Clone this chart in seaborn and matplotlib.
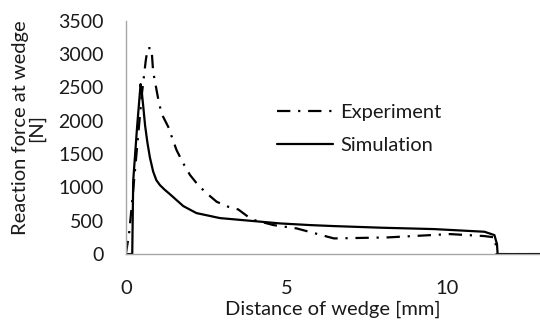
import matplotlib
matplotlib.use("Agg")
import matplotlib.pyplot as plt
import seaborn as sns
import pandas as pd

# values
exp_x = [0.0, 0.1, 0.2, 0.35, 0.5, 0.62, 0.68, 0.8, 0.85, 1.0, 1.11, 1.32, 1.58, 1.79, 2.0,
         2.25, 2.52, 2.83, 3.19, 3.5, 3.92, 4.6, 5.32, 6.48, 8.15, 10.1, 11.17, 11.5, 11.55, 13.0]
exp_y = [0, 300, 800, 1600, 2400, 2900, 3090, 3090, 2740, 2350, 2110, 1910, 1560, 1360, 1186,
         1036, 911, 785, 710, 670, 520, 435, 385, 235, 250, 300, 270, 250, 0, 0]

sim_x = [0.0, 0.2, 0.23, 0.35, 0.46, 0.5, 0.55, 0.6, 0.67, 0.75, 0.85, 0.95, 1.06, 1.2,
         1.37, 1.79, 2.2, 2.93, 3.87, 4.8, 5.74, 6.48, 8.0, 9.6, 11.17, 11.48, 11.56, 11.58, 13.0]
sim_y = [0, 0, 1100, 1900, 2550, 2420, 2180, 1930, 1680, 1450, 1240, 1110, 1036, 970,
         900, 720, 615, 540, 500, 460, 435, 420, 395, 375, 335, 285, 150, 0, 0]

series = ["Experiment", "Simulation"]

df = pd.concat([
    pd.DataFrame({"x": exp_x, "y": exp_y, "series": series[0]}),
    pd.DataFrame({"x": sim_x, "y": sim_y, "series": series[1]}),
], ignore_index=True)

sns.set_style("white")
plt.rcParams["font.family"] = ["Lato", "DejaVu Sans"]
text_col = "#1a1a1a"
axis_col = "#a6a6a6"
fs = 14.5

fig = plt.figure(figsize=(5.4, 3.2), dpi=100)
ax = fig.add_axes([0.233, 0.206, 0.767, 0.729])

sns.lineplot(data=df, x="x", y="y", hue="series", style="series",
             palette={"Experiment": "black", "Simulation": "black"},
             dashes={"Experiment": (6, 3.5, 1, 3.5), "Simulation": ""},
             estimator=None, sort=False, linewidth=1.6, ax=ax)

ax.set_xlim(0, 12.9)
ax.set_ylim(0, 3500)
ax.set_xticks([0, 5, 10])
ax.set_yticks(range(0, 3501, 500))

for s in ["top", "right"]:
    ax.spines[s].set_visible(False)
for s in ["left", "bottom"]:
    ax.spines[s].set_color(axis_col)
    ax.spines[s].set_linewidth(1.0)
ax.tick_params(axis="both", direction="out", length=6, width=1.0, color=axis_col,
               labelsize=14, labelcolor=text_col)
ax.tick_params(axis="y", pad=10)
ax.tick_params(axis="x", pad=13, labelsize=fs)

ax.set_xlabel("Distance of wedge [mm]", fontsize=fs, color=text_col)
ax.xaxis.set_label_coords(0.5, -0.2)
ax.set_ylabel("Reaction force at wedge\n[N]", fontsize=fs, color=text_col,
              linespacing=0.85)
ax.yaxis.set_label_coords(-0.196, 0.54)

leg = ax.legend(loc="upper left", bbox_to_anchor=(0.513, 0.675),
                bbox_transform=fig.transFigure, frameon=False, fontsize=fs,
                handlelength=2.8, handletextpad=0.35, labelspacing=0.8,
                borderpad=0, borderaxespad=0)
for t in leg.get_texts():
    t.set_color(text_col)

fig.savefig("out.png", dpi=100)
